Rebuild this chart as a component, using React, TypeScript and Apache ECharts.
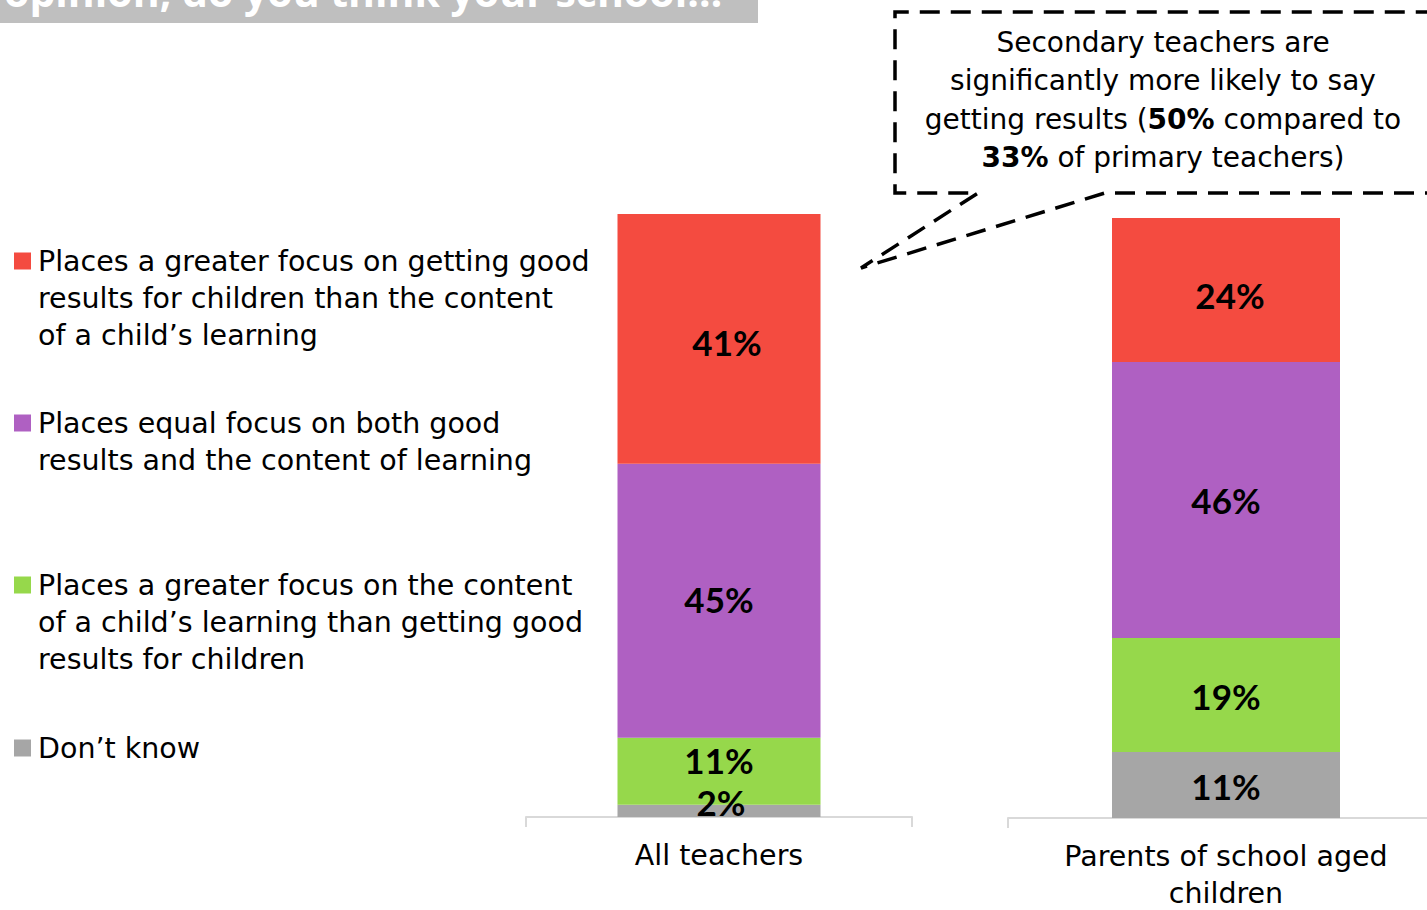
import React, { useEffect, useRef } from "react";
import * as echarts from "echarts";

// ---- data ----
const categories = ["All teachers", "Parents of school aged\nchildren"];
const seriesNames = [
  "Places a greater focus on getting good\nresults for children than the content\nof a child’s learning",
  "Places equal focus on both good\nresults and the content of learning",
  "Places a greater focus on the content\nof a child’s learning than getting good\nresults for children",
  "Don’t know",
];
const resultsFocus = [41, 24];
const equalFocus = [45, 46];
const contentFocus = [11, 19];
const dontKnow = [2, 11];
const seriesValues = [resultsFocus, equalFocus, contentFocus, dontKnow];
const titleText = "opinion, do you think your school…";
const calloutText =
  "{n|Secondary teachers are}\n{n|significantly more likely to say}\n{n|getting results (}{b|50%}{n| compared to}\n{b|33%}{n| of primary teachers)}";

// ---- styles / layout ----
const colors = ["#F44B40", "#AF60C2", "#96D84B", "#A6A6A6"];
const FONT = "'DejaVu Sans', 'Open Sans', sans-serif";
const LABEL_FONT = "Lato, 'Noto Sans', sans-serif";
const FS = 28.5;
const labelOffsets = [
  [[8, 3], [4, 5]],
  [[0, -2], [0, 0]],
  [[0, -11], [0, 1]],
  [[2, -9], [0, 1]],
];
const legendY = [261, 423, 585, 748];
const grids = [
  { left: 526, width: 386, top: 208, height: 609, outerBoundsMode: "none" },
  { left: 1008, width: 436, top: 218, height: 600, outerBoundsMode: "none" },
];
const barWidths = [203, 228];

export default function App() {
  const ref = useRef<HTMLDivElement>(null);
  useEffect(() => {
    if (!ref.current) return;
    const chart = echarts.init(ref.current, undefined, { renderer: "svg" });

    const xAxis = categories.map((c, g) => ({
      type: "category",
      gridIndex: g,
      data: [c],
      axisLine: { lineStyle: { color: "#D9D9D9", width: 2 } },
      axisTick: { show: true, length: 10, lineStyle: { color: "#D9D9D9", width: 2 } },
      axisLabel: {
        interval: 0,
        fontSize: FS,
        lineHeight: 37,
        margin: 20,
        color: "#000",
        fontFamily: FONT,
      },
    }));
    const yAxis = categories.map((_, g) => ({
      type: "value",
      gridIndex: g,
      min: 0,
      max: 100,
      show: false,
    }));

    const series: any[] = [];
    categories.forEach((_, g) => {
      [3, 2, 1, 0].forEach((s) => {
        series.push({
          type: "bar",
          name: seriesNames[s],
          xAxisIndex: g,
          yAxisIndex: g,
          stack: "stack" + g,
          barWidth: barWidths[g],
          itemStyle: { color: colors[s] },
          label: {
            show: true,
            position: "inside",
            formatter: "{c}%",
            fontSize: 35,
            fontWeight: "bold",
            color: "#000",
            fontFamily: LABEL_FONT,
            offset: labelOffsets[s][g],
          },
          data: [seriesValues[s][g]],
        });
      });
    });

    const legendGraphics: any[] = [];
    seriesNames.forEach((n, i) => {
      legendGraphics.push({
        type: "rect",
        shape: { x: 14, y: legendY[i] - 8.5, width: 17, height: 17 },
        style: { fill: colors[i] },
      });
      legendGraphics.push({
        type: "text",
        x: 38,
        y: legendY[i] - 18,
        style: {
          text: n,
          fontSize: FS,
          lineHeight: 37,
          fontFamily: FONT,
          fill: "#000",
          textVerticalAlign: "top",
        },
      });
    });

    chart.setOption({
      animation: false,
      backgroundColor: "#fff",
      grid: grids,
      xAxis,
      yAxis,
      series,
      graphic: [
        { type: "rect", shape: { x: 0, y: 0, width: 758, height: 23 }, style: { fill: "#BFBFBF" } },
        {
          type: "text",
          x: 4,
          y: -9,
          style: {
            text: titleText,
            fontSize: 41,
            fontWeight: "bold",
            fontFamily: "'Open Sans', sans-serif",
            fill: "#fff",
            textVerticalAlign: "middle",
          },
        },
        {
          type: "polyline",
          shape: {
            points: [
              [1445, 193],
              [1105, 193],
              [861, 268],
              [978, 193],
              [895, 193],
              [895, 12],
              [1445, 12],
            ],
          },
          style: { stroke: "#000", lineWidth: 3.5, lineDash: [20, 11], fill: null },
        },
        {
          type: "text",
          x: 1163,
          y: 23,
          style: {
            text: calloutText,
            textAlign: "center",
            textVerticalAlign: "top",
            fontSize: 28,
            lineHeight: 38.5,
            fontFamily: FONT,
            fill: "#000",
            rich: {
              n: { fontSize: 28, lineHeight: 38.5, fontFamily: FONT, color: "#000" },
              b: { fontSize: 28, lineHeight: 38.5, fontFamily: FONT, color: "#000", fontWeight: "bold" },
            },
          },
        },
        ...legendGraphics,
      ],
    });
    return () => chart.dispose();
  }, []);
  return (
    <div
      ref={ref}
      style={{ position: "fixed", left: 0, top: 0, width: 1427, height: 910 }}
    />
  );
}
